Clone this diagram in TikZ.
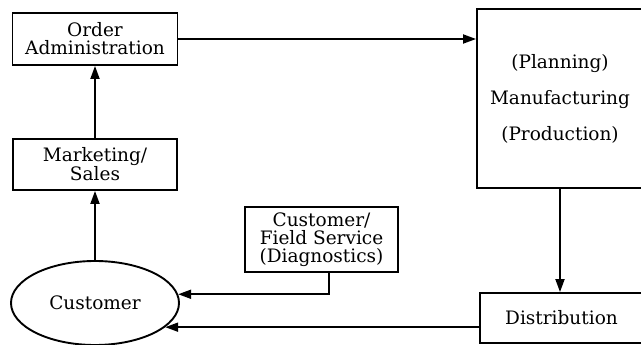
\documentclass[tikz,border=0pt]{standalone}
\usepackage{fontspec}
\setmainfont{DejaVu Serif}
\usetikzlibrary{shapes.geometric,arrows.meta}
\begin{document}
\begin{tikzpicture}[x=1pt,y=-1pt,
  box/.style={draw,line width=1.9pt,rectangle,inner sep=0pt,align=center,
    font=\fontsize{18.5}{17.8}\selectfont},
  arr/.style={line width=1.9pt,-{Triangle[length=13pt,width=9pt]}}]
\useasboundingbox (0,0) rectangle (641,345);
\clip (0,0) rectangle (641,345);
\node[box,minimum width=165pt,minimum height=52pt] (oa) at (95,39) {Order\\Administration};
\node[box,minimum width=164pt,minimum height=51pt] (ms) at (95,164.5) {Marketing/\\Sales};
\node[box,minimum width=153pt,minimum height=65pt] (fs) at (321.5,239.5) {Customer/\\Field Service\\(Diagnostics)};
\node[box,minimum width=166pt,minimum height=179pt,font=\fontsize{18.5}{36}\selectfont] (mfg) at (560,98.5) {(Planning)\\Manufacturing\\(Production)};
\node[box,minimum width=163pt,minimum height=50pt] (dist) at (561.5,318) {Distribution};
\node[draw,line width=1.9pt,ellipse,minimum width=168pt,minimum height=84pt,inner sep=0pt,
  font=\fontsize{18.5}{17.8}\selectfont] (cust) at (95,303) {Customer};
\draw[arr] (oa.east) -- (oa.east -| mfg.west);
\draw[arr] (mfg.south) -- (mfg.south |- dist.north);
\draw[arr] (ms.north) -- (oa.south);
\draw[arr] (cust.north) -- (ms.south);
\draw[arr] ([xshift=7.5pt]fs.south) |- (cust.6);
\draw[arr] (cust.-19 -| dist.west) -- (cust.-19);
\end{tikzpicture}
\end{document}
